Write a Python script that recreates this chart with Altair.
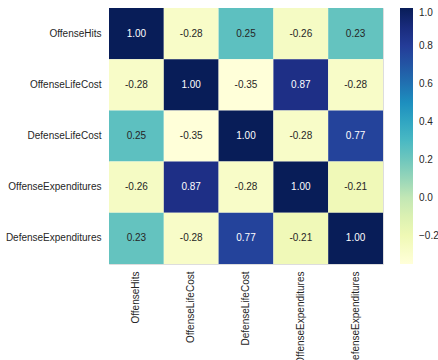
import altair as alt
import pandas as pd
import numpy as np

labels = ["OffenseHits", "OffenseLifeCost", "DefenseLifeCost", "OffenseExpenditures", "DefenseExpenditures"]
row_offense_hits = [1.00, -0.28, 0.25, -0.26, 0.23]
row_offense_lifecost = [-0.28, 1.00, -0.35, 0.87, -0.28]
row_defense_lifecost = [0.25, -0.35, 1.00, -0.28, 0.77]
row_offense_exp = [-0.26, 0.87, -0.28, 1.00, -0.21]
row_defense_exp = [0.23, -0.28, 0.77, -0.21, 1.00]
colorbar_ticks = [-0.2, 0.0, 0.2, 0.4, 0.6, 0.8, 1.0]

rows = [row_offense_hits, row_offense_lifecost, row_defense_lifecost, row_offense_exp, row_defense_exp]
records = []
for r, vals in zip(labels, rows):
    for c, v in zip(labels, vals):
        records.append({"row": r, "col": c, "v": v})
df = pd.DataFrame(records)

ylgnbu = ["#ffffd9", "#edf8b1", "#c7e9b4", "#7fcdbb", "#41b6c4", "#1d91c0", "#225ea8", "#253494", "#081d58"]
vmin, vmax = -0.35, 1.0
dom = [float(x) for x in np.linspace(vmin, vmax, len(ylgnbu))]

x_enc = alt.X("col:N", sort=labels, title=None,
              axis=alt.Axis(labelAngle=270, ticks=False, domain=False, labelPadding=7,
                            labelFontSize=10, labelColor="#262626", labelFont="Liberation Sans",
                            labelBaseline="middle", labelAlign="right"))
y_enc = alt.Y("row:N", sort=labels, title=None,
              axis=alt.Axis(ticks=False, domain=False, labelPadding=8, labelFontSize=10,
                            labelColor="#262626", labelFont="Liberation Sans"))

rect = alt.Chart(df).mark_rect().encode(
    x=x_enc, y=y_enc,
    color=alt.Color("v:Q", title=None,
                    scale=alt.Scale(domain=dom, range=ylgnbu, interpolate="rgb"),
                    legend=alt.Legend(values=colorbar_ticks, format=".1f", gradientLength=256,
                                      gradientThickness=13, labelFontSize=10, labelColor="#262626",
                                      labelFont="Liberation Sans", offset=17, padding=0,
                                      gradientStrokeWidth=0, labelOffset=6)),
)

text = alt.Chart(df).transform_calculate(
    lab="replace(format(datum.v, '.2f'), '\u2212', '-')"
).mark_text(fontSize=10, font="Liberation Sans").encode(
    x=alt.X("col:N", sort=labels),
    y=alt.Y("row:N", sort=labels),
    text=alt.Text("lab:N"),
    color=alt.condition("datum.v > 0.6", alt.value("white"), alt.value("#262626")),
)

chart = (rect + text).properties(
    width=274, height=256,
    autosize=alt.AutoSizeParams(type="none"),
    padding={"left": 109, "top": 8, "right": 55, "bottom": 96},
).configure_view(stroke=None).configure(background="white")

chart.save("out.html", embed_options={"renderer": "svg", "actions": False})
